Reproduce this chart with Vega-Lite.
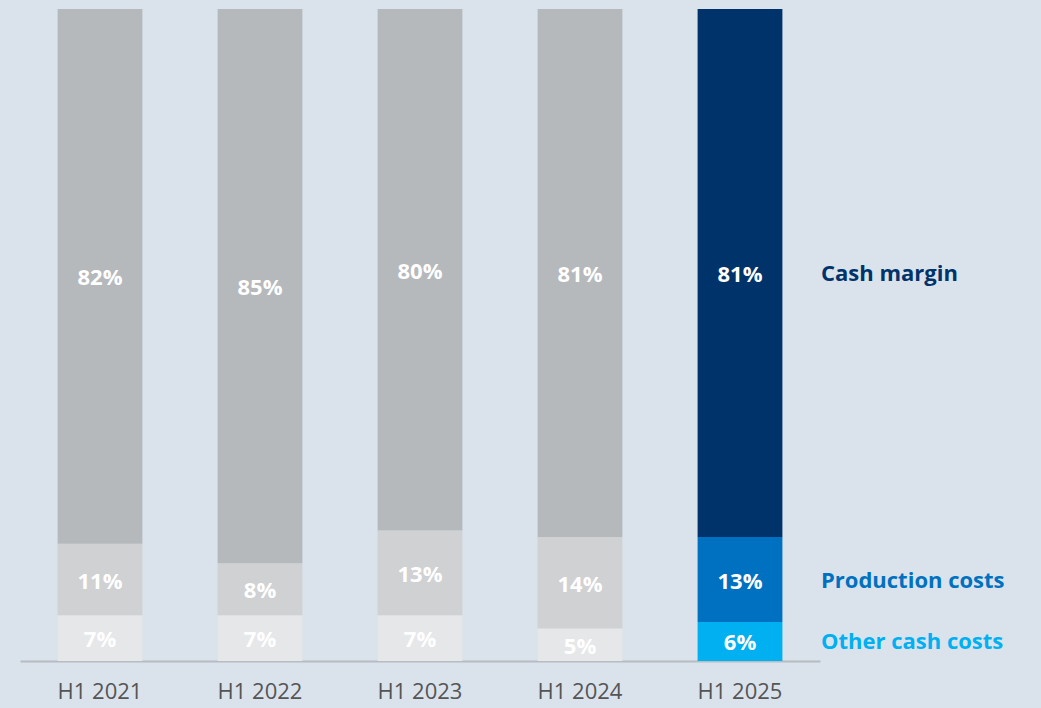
{
  "$schema": "https://vega.github.io/schema/vega-lite/v6.json",
  "width": 800,
  "height": 652,
  "autosize": {"type": "none"},
  "padding": {"left": 20, "top": 9, "right": 221, "bottom": 47},
  "background": "#dae3ec",
  "config": {"view": {"stroke": null}, "font": "Open Sans"},
  "data": {
    "values": [
      {"period": "H1 2021", "series": "Other cash costs", "rank": 1, "value": 0.07},
      {"period": "H1 2021", "series": "Production costs", "rank": 2, "value": 0.11},
      {"period": "H1 2021", "series": "Cash margin", "rank": 3, "value": 0.82},
      {"period": "H1 2022", "series": "Other cash costs", "rank": 1, "value": 0.07},
      {"period": "H1 2022", "series": "Production costs", "rank": 2, "value": 0.08},
      {"period": "H1 2022", "series": "Cash margin", "rank": 3, "value": 0.85},
      {"period": "H1 2023", "series": "Other cash costs", "rank": 1, "value": 0.07},
      {"period": "H1 2023", "series": "Production costs", "rank": 2, "value": 0.13},
      {"period": "H1 2023", "series": "Cash margin", "rank": 3, "value": 0.80},
      {"period": "H1 2024", "series": "Other cash costs", "rank": 1, "value": 0.05},
      {"period": "H1 2024", "series": "Production costs", "rank": 2, "value": 0.14},
      {"period": "H1 2024", "series": "Cash margin", "rank": 3, "value": 0.81},
      {"period": "H1 2025", "series": "Other cash costs", "rank": 1, "value": 0.06},
      {"period": "H1 2025", "series": "Production costs", "rank": 2, "value": 0.13},
      {"period": "H1 2025", "series": "Cash margin", "rank": 3, "value": 0.81}
    ]
  },
  "transform": [
    {"stack": "value", "groupby": ["period"], "sort": [{"field": "rank", "order": "ascending"}], "as": ["y0", "y1"]},
    {"calculate": "(datum.y0 + datum.y1) / 2", "as": "mid"}
  ],
  "encoding": {
    "x": {
      "field": "period",
      "type": "nominal",
      "sort": null,
      "scale": {"paddingInner": 0.47, "paddingOuter": 0.235},
      "axis": {
        "title": null,
        "labelAngle": 0,
        "ticks": false,
        "domainColor": "#b8bcc0",
        "domainWidth": 2,
        "labelFontSize": 22,
        "labelColor": "#555555",
        "labelPadding": 20,
        "labelFont": "Open Sans"
      }
    }
  },
  "layer": [
    {
      "mark": {"type": "bar"},
      "encoding": {
        "y": {"field": "y0", "type": "quantitative", "scale": {"domain": [0, 1], "nice": false}, "axis": null},
        "y2": {"field": "y1"},
        "color": {
          "condition": [
            {"test": "datum.period === 'H1 2025' && datum.series === 'Cash margin'", "value": "#003369"},
            {"test": "datum.period === 'H1 2025' && datum.series === 'Production costs'", "value": "#0070c0"},
            {"test": "datum.period === 'H1 2025' && datum.series === 'Other cash costs'", "value": "#00b0f0"},
            {"test": "datum.series === 'Cash margin'", "value": "#b5b9bc"},
            {"test": "datum.series === 'Production costs'", "value": "#cfd1d3"}
          ],
          "value": "#e6e7e9"
        }
      }
    },
    {
      "mark": {"type": "text", "color": "white", "fontWeight": "bold", "fontSize": 22, "baseline": "middle", "dy": 2},
      "encoding": {
        "y": {"field": "mid", "type": "quantitative"},
        "text": {"field": "value", "type": "quantitative", "format": ".0%"},
        "detail": {"field": "series"}
      }
    },
    {
      "transform": [{"filter": "datum.period === 'H1 2025'"}],
      "mark": {"type": "text", "fontWeight": "bold", "fontSize": 22, "align": "left", "baseline": "middle", "dx": 81, "dy": 1},
      "encoding": {
        "y": {"field": "mid", "type": "quantitative"},
        "text": {"field": "series"},
        "color": {
          "condition": [
            {"test": "datum.series === 'Cash margin'", "value": "#003369"},
            {"test": "datum.series === 'Production costs'", "value": "#0070c0"}
          ],
          "value": "#00b0f0"
        }
      }
    }
  ]
}
